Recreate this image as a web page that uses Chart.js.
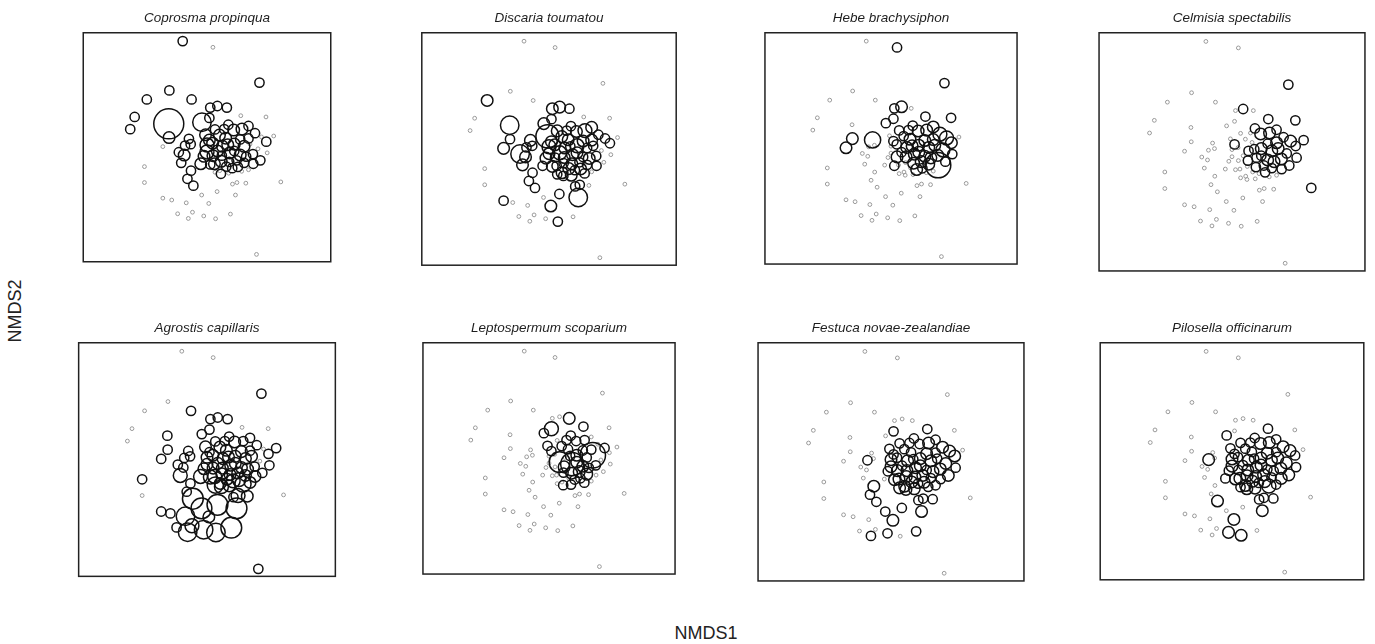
<!DOCTYPE html>
<html>
<head>
<meta charset="utf-8">
<title>NMDS species bubble plots</title>
<script src="https://cdn.jsdelivr.net/npm/chart.js@4.4.0/dist/chart.umd.min.js"></script>
<style>
  body {
    margin: 0;
    background: #fff;
    width: 1375px;
    height: 644px;
    position: relative;
    overflow: hidden;
    font-family: "Liberation Sans", Arial, Helvetica, sans-serif;
  }
  .panel { position: absolute; }
  .axis-label {
    position: absolute;
    font-size: 18px;
    line-height: 18px;
    color: #222;
    white-space: nowrap;
    transform: translate(-50%, -50%);
  }
  #ylab { transform: translate(-50%, -50%) rotate(-90deg); }
</style>
</head>
<body>
<div id="xlab" class="axis-label" style="left:706px; top:633px;">NMDS1</div>
<div id="ylab" class="axis-label" style="left:15px; top:311px;">NMDS2</div>

<script>
// site scores on the two NMDS axes (same sites in every panel)
const siteX = [
  -0.76, 0.26, -1.21, -1.97, -0.46, -2.38, -2.53, -1.23, -1.22, -1.43,
  -2.05, -2.05, -1.43, -1.13, -0.64, -0.93, -0.43, -0.57, -0.05, 0.35,
  0.85, 0.12, -0.12, 0.40, 1.02, 0.92, 1.07, 1.37, 1.73, 0.17,
  0.73, -0.11, 0.14, 0.33, 0.48, 0.69, -0.55, -0.49, -0.68, -0.89,
  -0.71, -0.81, -0.48, -0.60, -0.40, -0.15, -0.04, 0.06, 0.06, 0.25,
  0.17, 0.31, 0.33, 0.49, 0.53, 0.79, 1.23, 0.01, 1.83, 0.41,
  2.05, 2.55, 2.31, 2.09, 1.20, 0.78, 0.96, 1.24, 1.68, 1.90,
  0.14, 0.58, 0.98, 1.18, 1.51, 1.78, 0.83, 0.56, 1.18, 1.38,
  1.62, 1.10, 0.54, 1.46, 1.31, 0.98, 0.76, 1.61, 0.41, 0.81,
  1.06, 1.31, 1.86, 0.91, 1.46, 0.71, 0.64, 1.46, 0.26, 2.06
];
const siteY = [
  3.40, 3.20, 1.82, 1.53, 1.53, 0.97, 0.58, 0.75, 0.31, 0.02,
  -0.62, -1.13, -1.63, -1.69, -1.78, -2.13, -2.08, -2.28, -2.20, -2.29,
  -2.14, -1.80, -1.53, -1.42, -1.53, -1.18, -1.13, -1.15, -3.43, 1.27,
  1.27, 0.80, 0.94, 0.57, 0.39, 0.29, 0.27, 0.10, 0.05, -0.16,
  -0.25, -0.50, -0.75, -1.01, -1.23, -0.53, -0.29, -0.15, 0.07, 0.13,
  -0.55, -0.53, -0.80, -0.75, -0.85, -0.83, -0.77, 0.40, 2.07, 1.32,
  0.97, -1.11, 0.36, -0.18, 1.01, 0.72, 0.55, 0.58, 0.45, 0.33,
  0.23, 0.03, 0.10, 0.25, 0.10, -0.05, -0.18, -0.27, -0.25, -0.30,
  -0.53, -0.63, -0.45, 0.28, 0.03, -0.12, 0.08, -0.22, -0.12, -0.47,
  -0.42, -0.50, -0.42, -0.67, -0.72, -0.62, 0.58, 0.68, -0.27, 0.18
];

const speciesNames = [
  "Coprosma propinqua", "Discaria toumatou", "Hebe brachysiphon", "Celmisia spectabilis",
  "Agrostis capillaris", "Leptospermum scoparium", "Festuca novae-zealandiae", "Pilosella officinarum"
];

// sites (1-based) where each species occurs, and its cover class there
const coprosmaSites = [1, 59, 3, 4, 5, 6, 7, 8, 9, 30,
  60, 31, 32, 33, 34, 37, 38, 39, 40, 41,
  42, 43, 44, 45, 46, 35, 36, 47, 48, 49,
  50, 51, 52, 55, 58, 66, 67, 68, 69, 71,
  72, 73, 74, 77, 78, 79, 80, 81, 82, 83,
  84, 85, 86, 87, 88, 89, 90, 91, 92, 93,
  94, 96, 97, 98, 99, 100];
const coprosmaCover = [1, 1, 1, 1, 1, 1, 1, 10, 2, 1,
  1, 1, 5, 1, 1, 1, 1, 1, 1, 2,
  1, 1, 1, 1, 2, 2, 2, 2, 3, 3,
  2, 1, 2, 1, 2, 1, 2, 2, 1, 2,
  2, 2, 1, 2, 1, 2, 1, 1, 1, 2,
  1, 2, 1, 2, 1, 2, 1, 1, 1, 1,
  1, 1, 1, 1, 2, 1];

const discariaSites = [4, 8, 9, 10, 30, 60, 31, 33, 32, 34,
  37, 38, 39, 40, 41, 43, 44, 45, 46, 13,
  22, 24, 25, 26, 27, 20, 35, 36, 47, 48,
  49, 50, 51, 52, 53, 54, 55, 56, 57, 58,
  66, 67, 68, 69, 70, 71, 72, 73, 74, 75,
  77, 78, 79, 80, 81, 82, 83, 84, 85, 86,
  87, 88, 89, 90, 91, 92, 94, 96, 97, 98,
  99, 100, 42];
const discariaCover = [2, 5, 1, 2, 2, 2, 1, 1, 2, 2,
  2, 1, 1, 5, 2, 1, 1, 1, 1, 1,
  2, 1, 5, 1, 1, 1, 2, 2, 2, 2,
  3, 2, 2, 1, 1, 2, 1, 2, 1, 7,
  1, 2, 3, 1, 1, 2, 2, 3, 2, 1,
  2, 2, 1, 2, 1, 2, 1, 2, 1, 2,
  1, 1, 3, 2, 1, 1, 1, 2, 1, 2,
  1, 1, 2];

const hebeSites = [2, 59, 30, 60, 32, 33, 34, 65, 61, 66,
  9, 10, 37, 64, 82, 71, 99, 51, 35, 36,
  50, 67, 68, 69, 70, 72, 73, 74, 75, 76,
  77, 78, 79, 80, 81, 84, 85, 86, 87, 88,
  89, 90, 91, 92, 93, 94, 97, 98, 100];
const hebeCover = [1, 1, 1, 2, 1, 1, 1, 1, 1, 1,
  2, 2, 4, 1, 1, 1, 2, 1, 1, 2,
  1, 2, 2, 3, 3, 2, 2, 2, 2, 3,
  2, 2, 2, 2, 8, 2, 2, 2, 2, 2,
  1, 2, 2, 2, 1, 2, 1, 2, 2];

const celmisiaSites = [59, 60, 65, 61, 66, 67, 68, 69, 70, 63,
  71, 72, 73, 74, 75, 76, 64, 77, 78, 79,
  80, 81, 82, 62, 84, 85, 86, 87, 88, 90,
  91, 92, 93, 98, 100];
const celmisiaCover = [1, 1, 1, 1, 1, 2, 2, 1, 2, 1,
  1, 1, 2, 1, 2, 1, 1, 1, 1, 2,
  2, 1, 1, 1, 2, 2, 1, 1, 2, 1,
  1, 1, 1, 1, 1];

const agrostisSites = [59, 5, 30, 60, 31, 33, 32, 8, 9, 10,
  63, 64, 11, 37, 38, 39, 40, 41, 42, 43,
  44, 45, 23, 24, 25, 26, 27, 28, 13, 14,
  15, 16, 17, 18, 19, 20, 21, 22, 29, 46,
  34, 35, 36, 47, 48, 49, 50, 51, 52, 53,
  54, 55, 56, 57, 58, 66, 67, 68, 69, 71,
  72, 73, 74, 75, 77, 78, 79, 80, 81, 82,
  83, 84, 85, 86, 87, 88, 89, 90, 91, 92,
  93, 94, 95, 96, 97, 98, 99, 100];
const agrostisCover = [1, 1, 1, 1, 1, 1, 1, 1, 1, 1,
  1, 1, 1, 1, 1, 1, 1, 1, 3, 1,
  1, 6, 6, 6, 6, 1, 3, 2, 1, 1,
  5, 1, 3, 5, 5, 5, 6, 2, 1, 3,
  1, 2, 2, 2, 2, 2, 2, 3, 3, 4,
  2, 3, 2, 4, 2, 1, 2, 1, 1, 1,
  2, 2, 2, 2, 2, 2, 2, 2, 2, 3,
  2, 1, 2, 2, 2, 1, 2, 2, 2, 2,
  1, 3, 2, 2, 1, 1, 2, 1];

const leptospermumSites = [31, 33, 32, 65, 66, 35, 58, 71, 67, 68,
  74, 84, 70, 89, 75, 77, 85, 83, 80, 88,
  82, 57, 55, 56, 73, 86, 87, 78, 79, 90,
  91, 92, 94, 97, 36];
const leptospermumCover = [2, 3, 1, 1, 1, 1, 1, 1, 1, 1,
  1, 1, 1, 6, 8, 7, 1, 1, 1, 1,
  1, 1, 1, 1, 2, 2, 1, 2, 2, 2,
  2, 2, 1, 1, 1];

const festucaSites = [33, 65, 34, 66, 39, 43, 44, 45, 23, 24,
  22, 25, 26, 27, 28, 18, 19, 21, 64, 35,
  36, 47, 48, 49, 50, 51, 52, 53, 54, 55,
  56, 57, 58, 67, 68, 69, 70, 71, 72, 73,
  74, 75, 76, 77, 78, 79, 80, 81, 82, 83,
  84, 85, 86, 87, 88, 89, 90, 91, 92, 93,
  94, 95, 96, 97, 98, 99, 100];
const festucaCover = [1, 1, 1, 1, 1, 2, 1, 1, 1, 1,
  2, 2, 1, 1, 1, 1, 1, 1, 1, 1,
  1, 1, 2, 2, 1, 2, 2, 2, 2, 2,
  2, 1, 1, 1, 2, 2, 2, 1, 2, 2,
  2, 1, 2, 2, 2, 1, 2, 1, 2, 2,
  1, 2, 2, 1, 2, 1, 2, 2, 1, 2,
  1, 1, 2, 1, 1, 2, 2];

const pilosellaSites = [32, 65, 34, 66, 39, 45, 22, 19, 20, 25,
  26, 27, 28, 64, 46, 57, 35, 36, 47, 48,
  49, 50, 51, 52, 53, 54, 55, 56, 58, 67,
  68, 69, 70, 71, 72, 73, 74, 75, 76, 77,
  78, 79, 80, 81, 82, 83, 84, 85, 86, 87,
  88, 89, 90, 91, 92, 93, 94, 95, 96, 97,
  98, 99, 100];
const pilosellaCover = [1, 1, 1, 1, 2, 2, 2, 2, 2, 2,
  1, 1, 1, 1, 1, 3, 1, 1, 1, 2,
  2, 1, 2, 2, 1, 2, 2, 2, 1, 2,
  2, 2, 2, 1, 2, 2, 2, 2, 2, 2,
  2, 1, 1, 2, 2, 2, 1, 2, 2, 1,
  2, 1, 2, 2, 1, 2, 1, 1, 2, 1,
  1, 1, 1];

const speciesSites = [coprosmaSites, discariaSites, hebeSites, celmisiaSites,
  agrostisSites, leptospermumSites, festucaSites, pilosellaSites];
const speciesCover = [coprosmaCover, discariaCover, hebeCover, celmisiaCover,
  agrostisCover, leptospermumCover, festucaCover, pilosellaCover];

// layout of the 2 x 4 grid
const panelLefts = [67, 409, 750.5, 1092];
const frameTops = [32, 342];
const frameW = 280;
const frameH = 246;
const titleSpace = 32;

function coverRadius(c) {
  return 3.5 + 1.15 * c;
}

const framePlugin = {
  id: "frame",
  afterDatasetsDraw(chart) {
    const { ctx, chartArea: a } = chart;
    ctx.save();
    ctx.strokeStyle = "#222";
    ctx.lineWidth = 1.5;
    ctx.strokeRect(a.left + 0.75, a.top + 0.75, a.right - a.left - 1.5, a.bottom - a.top - 1.5);
    ctx.restore();
  }
};

speciesNames.forEach(function (name, p) {
  const row = Math.floor(p / 4);
  const col = p % 4;

  const sites = speciesSites[p];
  const cover = speciesCover[p];
  if (sites.length !== cover.length) console.warn("length mismatch", name);

  const present = [];
  const presentSet = new Set();
  sites.forEach(function (s, k) {
    presentSet.add(s - 1);
    present.push({ x: siteX[s - 1], y: siteY[s - 1], r: coverRadius(cover[k] || 1) });
  });
  const absent = [];
  for (let i = 0; i < siteX.length; i++) {
    if (!presentSet.has(i)) absent.push({ x: siteX[i], y: siteY[i], r: 1.9 });
  }

  const canvas = document.createElement("canvas");
  canvas.className = "panel";
  canvas.width = frameW + 2;
  canvas.height = titleSpace + frameH + 1;
  canvas.style.left = (panelLefts[col] - 1) + "px";
  canvas.style.top = (frameTops[row] - titleSpace) + "px";
  canvas.style.width = canvas.width + "px";
  canvas.style.height = canvas.height + "px";
  document.body.appendChild(canvas);

  new Chart(canvas.getContext("2d"), {
    type: "bubble",
    data: {
      datasets: [
        {
          label: "present",
          data: present,
          backgroundColor: "rgba(0,0,0,0)",
          borderColor: "#111",
          borderWidth: 1.5
        },
        {
          label: "absent",
          data: absent,
          backgroundColor: "rgba(0,0,0,0)",
          borderColor: "#999",
          borderWidth: 1
        }
      ]
    },
    options: {
      responsive: false,
      animation: false,
      events: [],
      layout: { padding: { left: 1, right: 1, top: 0, bottom: 1 } },
      scales: {
        x: { type: "linear", min: -4.14, max: 4.26, display: false },
        y: { type: "linear", min: -3.69, max: 3.69, display: false }
      },
      plugins: {
        legend: { display: false },
        tooltip: { enabled: false },
        title: {
          display: true,
          text: name,
          color: "#1e1e1e",
          font: { family: "'Liberation Sans', Arial, sans-serif", size: 13.5, style: "italic", weight: "normal", lineHeight: 1.2 },
          padding: { top: 10, bottom: 5.8 }
        }
      }
    },
    plugins: [framePlugin]
  });
});
</script>
</body>
</html>
